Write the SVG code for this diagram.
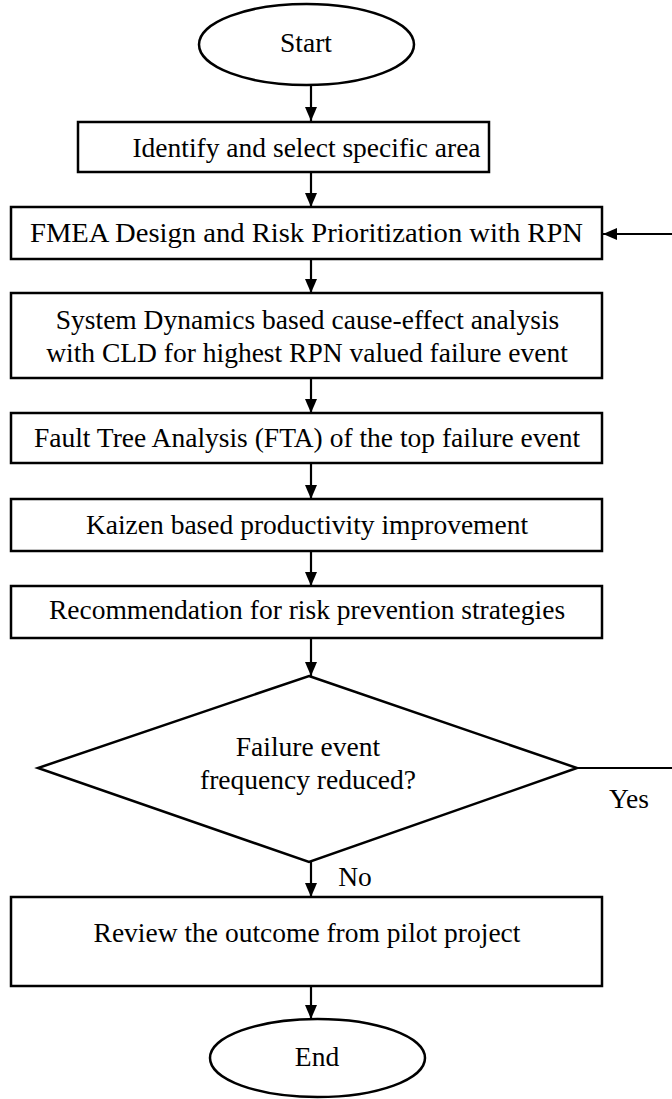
<svg xmlns="http://www.w3.org/2000/svg" width="672" height="1099" viewBox="0 0 672 1099">
<style>
.shape{fill:#fff;stroke:#000;stroke-width:2.5}
.t{font-family:"Liberation Serif","Times New Roman",serif;font-size:27.5px;fill:#000;text-anchor:middle}
.conn{stroke:#000;stroke-width:2.2;fill:none}
</style>
<defs>
<marker id="ah" markerUnits="userSpaceOnUse" markerWidth="14" markerHeight="14" viewBox="0 0 14 12" refX="14" refY="6" orient="auto">
<path d="M0,0 L14,6 L0,12 Z" fill="#000"/>
</marker>
</defs>
<rect width="672" height="1099" fill="#fff"/>
<g id="connectors">
<line class="conn" x1="311" y1="85" x2="311" y2="121" marker-end="url(#ah)"/>
<line class="conn" x1="311" y1="172" x2="311" y2="207" marker-end="url(#ah)"/>
<line class="conn" x1="311" y1="259" x2="311" y2="293" marker-end="url(#ah)"/>
<line class="conn" x1="311" y1="378" x2="311" y2="413" marker-end="url(#ah)"/>
<line class="conn" x1="311" y1="463" x2="311" y2="499" marker-end="url(#ah)"/>
<line class="conn" x1="311" y1="551" x2="311" y2="586" marker-end="url(#ah)"/>
<line class="conn" x1="311" y1="638" x2="311" y2="676" marker-end="url(#ah)"/>
<line class="conn" x1="311" y1="862" x2="311" y2="897" marker-end="url(#ah)"/>
<line class="conn" x1="311" y1="986" x2="311" y2="1019" marker-end="url(#ah)"/>
<line class="conn" x1="672" y1="234" x2="603" y2="234" marker-end="url(#ah)"/>
<line class="conn" x1="577" y1="768" x2="672" y2="768"/>
<text class="t" x="629" y="808">Yes</text>
<text class="t" x="355" y="886">No</text>
</g>
<g id="start">
<ellipse class="shape" cx="306.5" cy="44.5" rx="107.5" ry="40.5"/>
<text class="t" x="306" y="52">Start</text>
</g>
<g id="identify">
<rect class="shape" x="78" y="122" width="411" height="50"/>
<text class="t" x="306.5" y="157">Identify and select specific area</text>
</g>
<g id="fmea">
<rect class="shape" x="11" y="207" width="591" height="52"/>
<text class="t" x="306.5" y="242" textLength="553" lengthAdjust="spacingAndGlyphs">FMEA Design and Risk Prioritization with RPN</text>
</g>
<g id="sd">
<rect class="shape" x="11" y="293" width="591" height="85"/>
<text class="t" x="307.5" y="329">System Dynamics based cause-effect analysis</text>
<text class="t" x="307" y="362">with CLD for highest RPN valued failure event</text>
</g>
<g id="fta">
<rect class="shape" x="11" y="413" width="591" height="50"/>
<text class="t" x="307" y="447">Fault Tree Analysis (FTA) of the top failure event</text>
</g>
<g id="kaizen">
<rect class="shape" x="11" y="499" width="591" height="52"/>
<text class="t" x="307" y="534">Kaizen based productivity improvement</text>
</g>
<g id="recommendation">
<rect class="shape" x="11" y="586" width="591" height="52"/>
<text class="t" x="307" y="619">Recommendation for risk prevention strategies</text>
</g>
<g id="decision">
<polygon class="shape" points="309,676 577,768 309,862 38,768"/>
<text class="t" x="308" y="756">Failure event</text>
<text class="t" x="308" y="789">frequency reduced?</text>
</g>
<g id="review">
<rect class="shape" x="11" y="897" width="591" height="89"/>
<text class="t" x="307" y="942">Review the outcome from pilot project</text>
</g>
<g id="end">
<ellipse class="shape" cx="317.5" cy="1058" rx="107.5" ry="39"/>
<text class="t" x="317" y="1066">End</text>
</g>
</svg>
